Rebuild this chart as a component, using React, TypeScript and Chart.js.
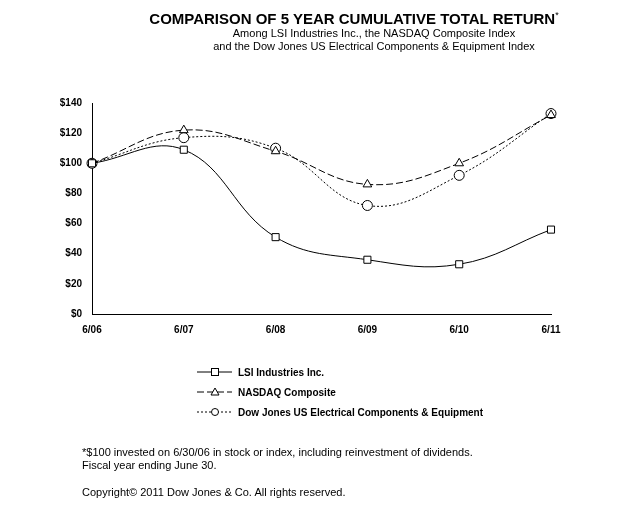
import React, { useEffect, useRef } from "react";
import { Chart, registerables } from "chart.js";
Chart.register(...registerables);

const categories = ["6/06", "6/07", "6/08", "6/09", "6/10", "6/11"];
const lsi = [100, 109, 51, 36, 33, 56];
const nasdaq = [100, 122, 108, 86, 100, 132];
const dowJones = [100, 117, 110, 72, 92, 133];
const yTicks = [0, 20, 40, 60, 80, 100, 120, 140];
const seriesNames = ["LSI Industries Inc.", "NASDAQ Composite", "Dow Jones US Electrical Components & Equipment"];

const legendPlugin = {
  id: "customLegend",
  afterDraw(chart: any) {
    const ctx = chart.ctx;
    chart.data.datasets.forEach((ds: any, i: number) => {
      const y = 372 + i * 20;
      ctx.save();
      ctx.strokeStyle = "#000";
      ctx.lineWidth = 1;
      ctx.setLineDash(ds.borderDash || []);
      ctx.beginPath();
      ctx.moveTo(197, y);
      ctx.lineTo(232, y);
      ctx.stroke();
      ctx.setLineDash([]);
      ctx.fillStyle = "#fff";
      const cx = 215;
      if (ds.pointStyle === "rect") {
        ctx.fillRect(cx - 3.5, y - 3.5, 7, 7);
        ctx.strokeRect(cx - 3.5, y - 3.5, 7, 7);
      } else if (ds.pointStyle === "triangle") {
        ctx.beginPath();
        ctx.moveTo(cx, y - 4);
        ctx.lineTo(cx + 4, y + 3);
        ctx.lineTo(cx - 4, y + 3);
        ctx.closePath();
        ctx.fill();
        ctx.stroke();
      } else {
        ctx.beginPath();
        ctx.arc(cx, y, 3.5, 0, Math.PI * 2);
        ctx.fill();
        ctx.stroke();
      }
      ctx.fillStyle = "#000";
      ctx.font = "bold 10px Arial, 'Liberation Sans', sans-serif";
      ctx.textBaseline = "middle";
      ctx.fillText(seriesNames[i], 238, y + 1);
      ctx.restore();
    });
  },
};

export default function App() {
  const ref = useRef<HTMLCanvasElement>(null);
  useEffect(() => {
    const mk = (label: string, data: number[], style: string, dash: number[]) => ({
      label,
      data,
      borderColor: "#000",
      borderWidth: 1,
      borderDash: dash,
      pointStyle: style,
      pointRadius: 5,
      pointBackgroundColor: "#fff",
      pointBorderColor: "#000",
      pointBorderWidth: 1,
      tension: 0.4,
      fill: false,
    });
    const chart = new Chart(ref.current!, {
      type: "line",
      data: {
        labels: categories,
        datasets: [
          mk(seriesNames[0], lsi, "rect", []),
          mk(seriesNames[1], nasdaq, "triangle", [7, 3]),
          mk(seriesNames[2], dowJones, "circle", [2, 2]),
        ],
      },
      options: {
        animation: false,
        responsive: false,
        layout: { padding: { left: 0, right: 77, top: 103, bottom: 0 } },
        plugins: { legend: { display: false }, tooltip: { enabled: false } },
        scales: {
          x: {
            offset: false,
            grid: { display: false, drawTicks: true, tickLength: 4, color: "#000" },
            border: { color: "#000" },
            ticks: { color: "#000", font: { family: "Arial, 'Liberation Sans', sans-serif", size: 10, weight: "bold" }, maxRotation: 0, padding: 6 },
            afterFit: (s: any) => { s.height = 208; },
          },
          y: {
            min: 0,
            max: 140,
            afterBuildTicks: (s: any) => { s.ticks = yTicks.map((v) => ({ value: v })); },
            grid: { display: false, drawTicks: true, tickLength: 4, color: "#000" },
            border: { color: "#000" },
            ticks: { color: "#000", font: { family: "Arial, 'Liberation Sans', sans-serif", size: 10, weight: "bold" }, callback: (v: any) => "$" + v, padding: 6 },
            afterFit: (s: any) => { s.width = 92; },
          },
        },
      },
      plugins: [legendPlugin],
    } as any);
    return () => chart.destroy();
  }, []);
  const font = "Arial, 'Liberation Sans', sans-serif";
  return (
    <div style={{ position: "absolute", left: 0, top: 0, width: 628, height: 522, background: "#fff", fontFamily: font, color: "#000" }}>
      <canvas ref={ref} width={628} height={522} style={{ position: "absolute", left: 0, top: 0 }} />
      <div style={{ position: "absolute", left: 0, width: 628, top: 10, textAlign: "center" }}>
        <div style={{ fontWeight: "bold", fontSize: 15, paddingLeft: 80 }}>COMPARISON OF 5 YEAR CUMULATIVE TOTAL RETURN<sup style={{ fontSize: 9, fontWeight: "normal" }}>*</sup></div>
        <div style={{ fontSize: 11, paddingLeft: 120, lineHeight: "13px" }}>Among LSI Industries Inc., the NASDAQ Composite Index</div>
        <div style={{ fontSize: 11, paddingLeft: 120, lineHeight: "13px" }}>and the Dow Jones US Electrical Components &amp; Equipment Index</div>
      </div>
      <div style={{ position: "absolute", left: 82, top: 446, fontSize: 11, lineHeight: "13px" }}>
        *$100 invested on 6/30/06 in stock or index, including reinvestment of dividends.<br />Fiscal year ending June 30.
      </div>
      <div style={{ position: "absolute", left: 82, top: 486, fontSize: 11 }}>Copyright© 2011 Dow Jones &amp; Co. All rights reserved.</div>
    </div>
  );
}
